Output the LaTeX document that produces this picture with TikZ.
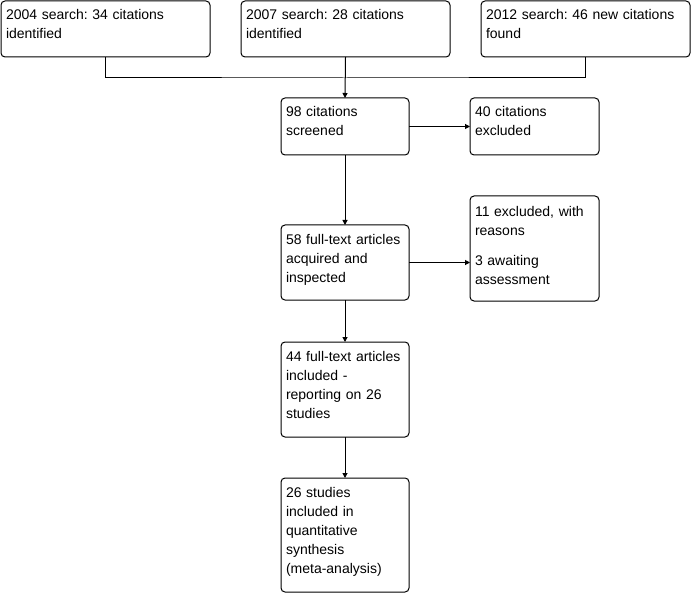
\documentclass[tikz,border=0pt]{standalone}
\usepackage{fontspec}
\setmainfont{Liberation Sans}
\usetikzlibrary{arrows.meta,positioning}
\frenchspacing

\begin{document}
\begin{tikzpicture}[x=1pt,y=-1pt,line width=1pt,>={Triangle[length=5pt,width=5pt]},
  flowbox/.style={draw,rounded corners=4pt,anchor=north west,align=left,inner xsep=5pt,inner ysep=0pt,outer sep=0pt,text height=19pt,font=\fontsize{14}{19}\selectfont}]
  \useasboundingbox (0,0) rectangle (692,593);
  % three searches
  \node[flowbox,text width=199pt,text depth=37pt] (s04) at (1,1) {2004 search: 34 citations\\identified};
  \node[flowbox,text width=199pt,text depth=37pt] (s07) at (241,1) {2007 search: 28 citations\\identified};
  \node[flowbox,text width=199pt,text depth=37pt] (s12) at (481,1) {2012 search: 46 new citations\\found};
  % main column
  \node[flowbox,text width=118pt,text depth=38pt] (screen) at (281,98) {98 citations\\screened};
  \node[flowbox,text width=118pt,text depth=56pt] (full) at (281,225) {58 full-text articles\\acquired and\\inspected};
  \node[flowbox,text width=118pt,text depth=76pt] (incl) at (281,342) {44 full-text articles\\included -\\reporting on 26\\studies};
  \node[flowbox,text width=118pt,text depth=95pt] (meta) at (281,478) {26 studies\\included in\\quantitative\\synthesis\\(meta-analysis)};
  % exclusions
  \node[flowbox,text width=119pt,text depth=38pt] (excl) at (470,98) {40 citations\\excluded};
  \node[flowbox,text width=119pt,text height=21pt,text depth=84pt] (reas) at (470,196) {11 excluded, with\\reasons\\[11pt]3 awaiting\\assessment};
  \coordinate (merge) at (345,78);
  \draw (s04.south) |- (merge) -| (s12.south);
  \draw[->] (s07.south) -- (screen.north);
  \draw[->] (screen.east) -- (excl.west);
  \draw[->] (full.east) -- (full.east -| reas.west);
  \draw[->] (screen.south) -- (full.north);
  \draw[->] (full.south) -- (incl.north);
  \draw[->] (incl.south) -- (meta.north);
\end{tikzpicture}
\end{document}
